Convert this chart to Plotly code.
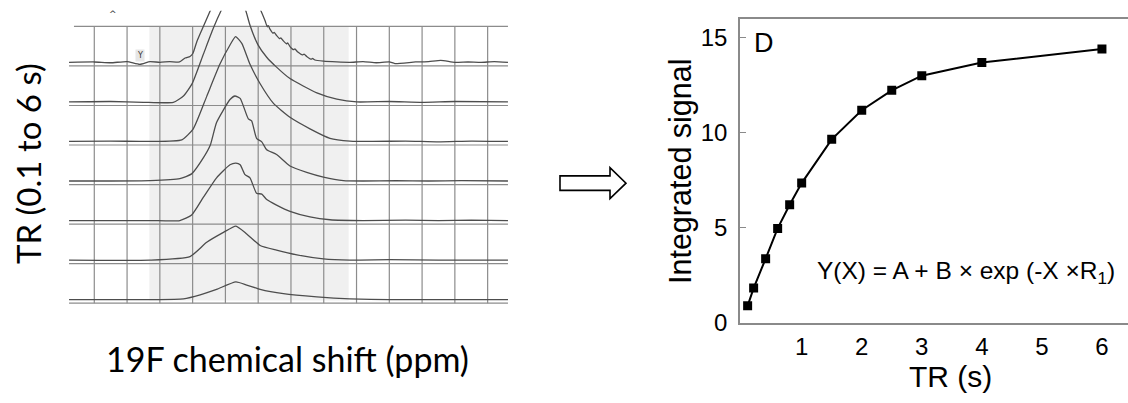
import plotly.graph_objects as go

# ---------------- Left panel: stacked 19F spectra (TR 0.1 .. 6 s) ----------------
# x in grid divisions of chemical shift, y = intensity (one grid row = 1 unit)
spec1_x = [0.23, 1.0, 1.5, 2.0, 2.39, 2.7, 3.0, 3.3, 3.6, 3.77, 3.92, 4.01, 4.13, 4.29, 4.53, 5.32,
           6.09, 6.21, 6.28, 6.31, 6.36, 6.45, 6.49, 6.56, 6.65, 6.69, 6.76, 6.86, 6.90, 6.97, 7.08,
           7.12, 7.21, 7.35, 7.40, 7.48, 7.62, 7.66, 7.73, 7.99, 8.40, 8.8, 9.2, 9.6, 10.0, 10.17,
           10.8, 11.2, 11.57, 12.0, 12.4, 12.8, 13.2, 13.62]
spec1_y = [0.0, 0.01, -0.01, 0.02, -0.05, 0.02, 0.0, 0.02, 0.01, 0.11, 0.15, 0.23, 0.53, 0.84, 1.29, 2.68,
           1.29, 1.05, 0.90, 0.93, 0.84, 0.74, 0.76, 0.68, 0.60, 0.62, 0.55, 0.47, 0.49, 0.40, 0.32,
           0.34, 0.26, 0.19, 0.21, 0.15, 0.08, 0.10, 0.06, 0.03, 0.01, 0.0, 0.02, -0.01, 0.01, -0.03,
           0.01, 0.02, 0.05, 0.0, 0.01, 0.0, 0.02, 0.0]

spec2_x = [0.23, 1.5, 2.5, 3.41, 3.72, 3.99, 4.33, 4.63, 4.87, 5.29, 5.62, 5.75, 5.99, 6.26, 6.56,
           6.97, 7.79, 8.40, 9.01, 10.0, 11.0, 12.0, 13.62]
spec2_y = [0.0, 0.01, -0.01, -0.01, 0.15, 0.47, 1.21, 1.86, 2.31, 2.96, 2.31, 1.94, 1.45, 1.13, 0.88,
           0.59, 0.23, 0.07, 0.0, 0.01, -0.01, 0.01, 0.0]

spec3_x = [0.23, 1.5, 2.7, 3.67, 4.02, 4.43, 4.83, 5.14, 5.31, 5.50, 5.75, 6.06, 6.46, 6.97, 7.58,
           8.19, 8.80, 9.5, 10.5, 11.5, 12.5, 13.62]
spec3_y = [0.0, 0.01, 0.0, 0.04, 0.32, 1.14, 1.95, 2.44, 2.65, 2.48, 1.95, 1.46, 0.97, 0.61, 0.32,
           0.08, 0.01, 0.0, 0.01, -0.01, 0.01, 0.0]

spec4_x = [0.23, 1.5, 2.70, 3.61, 3.97, 4.33, 4.54, 4.73, 5.14, 5.29, 5.45, 5.70, 5.80, 5.95, 6.11,
           6.26, 6.56, 6.97, 7.48, 7.99, 8.60, 9.20, 10.2, 11.2, 12.2, 13.62]
spec4_y = [0.0, 0.0, 0.01, 0.06, 0.18, 0.59, 0.91, 1.48, 2.06, 2.15, 2.09, 1.57, 1.52, 1.08, 0.99,
           0.79, 0.67, 0.38, 0.22, 0.10, 0.01, 0.0, 0.01, 0.0, 0.01, 0.0]

spec5_x = [0.23, 2.70, 3.61, 3.97, 4.33, 4.73, 5.14, 5.32, 5.45, 5.60, 5.75, 5.95, 6.11, 6.26, 6.56,
           6.97, 7.58, 8.19, 9.20, 10.5, 11.5, 12.5, 13.62]
spec5_y = [0.0, 0.0, 0.0, 0.14, 0.59, 1.08, 1.41, 1.45, 1.41, 1.16, 1.08, 0.69, 0.67, 0.53, 0.39,
           0.23, 0.09, 0.02, 0.0, 0.01, 0.0, 0.01, 0.0]

spec6_x = [0.23, 2.70, 3.92, 4.43, 4.94, 5.32, 5.65, 6.06, 6.56, 7.18, 7.99, 8.80, 10.0, 11.5, 13.62]
spec6_y = [0.0, 0.0, 0.09, 0.45, 0.70, 0.86, 0.66, 0.37, 0.25, 0.13, 0.03, 0.0, 0.01, 0.0, 0.0]

spec7_x = [0.23, 2.70, 3.72, 4.23, 4.73, 5.32, 5.65, 5.95, 6.06, 6.77, 7.79, 8.80, 10.0, 13.62]
spec7_y = [0.0, 0.0, 0.02, 0.12, 0.26, 0.45, 0.37, 0.29, 0.26, 0.15, 0.07, 0.02, 0.0, 0.0]

spectra = [(spec1_x, spec1_y), (spec2_x, spec2_y), (spec3_x, spec3_y), (spec4_x, spec4_y),
           (spec5_x, spec5_y), (spec6_x, spec6_y), (spec7_x, spec7_y)]

grid_cols = list(range(1, 14))       # vertical grid divisions
grid_rows = list(range(0, 8))        # horizontal grid lines (row 7 = top)
shade_x = [2.68, 8.76]               # highlighted integration window
shade_y = [0.07, 7.0]

# ---------------- Right panel: integrated signal vs TR ----------------
tr_s = [0.1, 0.2, 0.4, 0.6, 0.8, 1.0, 1.5, 2.0, 2.5, 3.0, 4.0, 6.0]
signal = [0.89, 1.82, 3.37, 4.96, 6.20, 7.34, 9.64, 11.17, 12.22, 12.99, 13.68, 14.39]
x_ticks = [1, 2, 3, 4, 5, 6]
y_ticks = [0, 5, 10, 15]

W, H = 1128, 403
def px(x): return x / W
def py(y): return 1 - y / H

fig = go.Figure()

LIFT = 0.09
n = len(spectra)
for i, (xs, ys) in enumerate(spectra):
    base = (n - 1 - i) + LIFT
    fig.add_trace(go.Scatter(x=xs, y=[base + v for v in ys], mode="lines",
                             line=dict(color="#4d4d4d", width=1.3, shape="spline", smoothing=0.5),
                             xaxis="x", yaxis="y", showlegend=False, hoverinfo="skip"))

fig.add_trace(go.Scatter(x=tr_s, y=signal, mode="lines+markers",
                         line=dict(color="black", width=2),
                         marker=dict(symbol="square", size=9, color="black"),
                         xaxis="x2", yaxis="y2", showlegend=False))

shapes = []
shapes.append(dict(type="rect", xref="x", yref="y", x0=shade_x[0], x1=shade_x[1],
                   y0=shade_y[0], y1=shade_y[1], fillcolor="#f0f0f0", line=dict(width=0),
                   layer="below"))
for c in grid_cols:
    shapes.append(dict(type="line", xref="x", yref="y", x0=c, x1=c, y0=grid_rows[0], y1=grid_rows[-1],
                       line=dict(color="#8c8c8c", width=1.2), layer="below"))
for r in grid_rows:
    x_start = 0.38 if r == grid_rows[-1] else 0.23
    shapes.append(dict(type="line", xref="x", yref="y", x0=x_start, x1=13.62, y0=r, y1=r,
                       line=dict(color="#8c8c8c", width=1.2), layer="below"))
# hollow arrow between panels
arrow = [(560, 181.7), (610, 181.7), (610, 173.3), (626, 189.3), (610, 205.3), (610, 196.7), (560, 196.7)]
path = "M " + " L ".join(f"{px(a):.5f},{py(b):.5f}" for a, b in arrow) + " Z"
shapes.append(dict(type="path", xref="paper", yref="paper", path=path,
                   line=dict(color="black", width=1.6), fillcolor="white"))

def note(text, x, y, size, family, angle=0, xanchor="center", **kw):
    return dict(text=text, x=px(x), y=py(y), xref="paper", yref="paper", textangle=angle,
                xanchor=xanchor, yanchor="middle", showarrow=False,
                font=dict(family=family, size=size, color=kw.pop("color", "black")), **kw)

annotations = [
    note("TR (0.1 to 6 s)", 27.5, 169, 33, "Lato", angle=-90),
    note("19F chemical shift (ppm)", 287.5, 370, 34, "Lato"),
    note("^", 112.7, 14, 9, "DejaVu Sans", color="#333"),
    note("Y", 139.5, 57, 8, "DejaVu Sans", color="#333", bgcolor="#e6e6e6"),
    note("D", 752, 44, 27, "Liberation Sans", xanchor="left"),
    note("Y(X) = A + B × exp (-X ×R<sub>1</sub>)", 815, 282, 24.5, "Liberation Sans", xanchor="left"),
    note("Integrated signal", 680, 176.7, 30.5, "Liberation Sans", angle=-90),
    note("TR (s)", 950, 389, 30, "Liberation Sans"),
]

fig.update_layout(
    width=W, height=H, autosize=False, margin=dict(l=0, r=0, t=0, b=0, pad=0),
    paper_bgcolor="white", plot_bgcolor="rgba(0,0,0,0)",
    xaxis=dict(domain=[px(60), px(512)], range=[-0.046, 13.743], visible=False),
    yaxis=dict(domain=[py(318), py(11)], range=[-0.115, 7.398], visible=False),
    xaxis2=dict(domain=[px(740), 1.0], range=[-0.027, 6.434], anchor="y2",
                showline=True, linecolor="#8a8a8a", linewidth=1.5, mirror=True,
                showgrid=False, zeroline=False, ticks="", tickvals=x_ticks,
                tickfont=dict(family="Liberation Sans", size=24, color="black"), ticklabelstandoff=2),
    yaxis2=dict(domain=[py(333.5), py(20)], range=[0, 15.95], anchor="x2",
                showline=True, linecolor="#8a8a8a", linewidth=1.5,
                showgrid=False, zeroline=False, ticks="inside", ticklen=6, tickcolor="#8a8a8a",
                tickvals=y_ticks, tickfont=dict(family="Liberation Sans", size=24, color="black"),
                ticklabelstandoff=6),
    shapes=shapes, annotations=annotations,
)

fig.write_html("out.html", config={"responsive": False, "displayModeBar": False})
